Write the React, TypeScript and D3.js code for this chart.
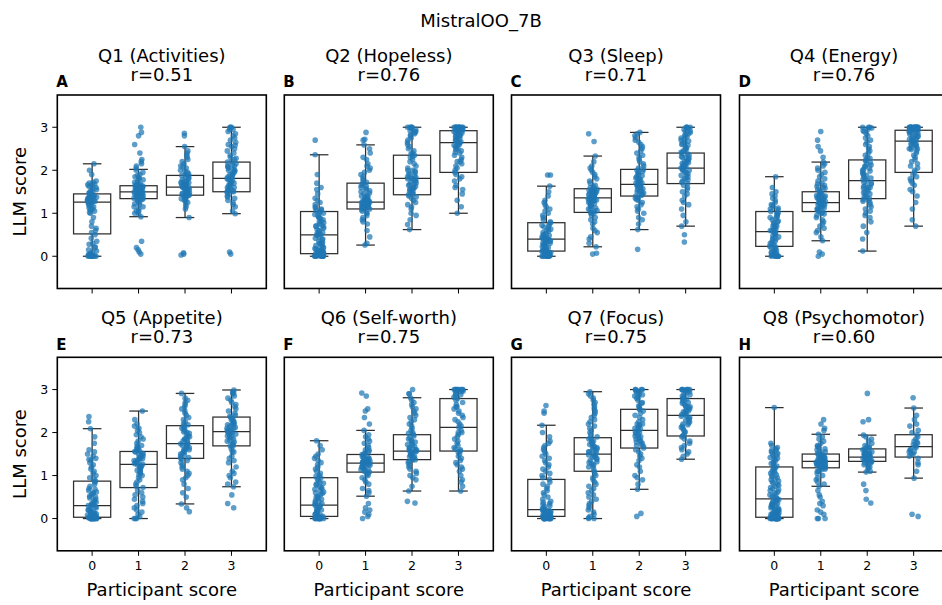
import React from 'react';
import * as d3 from 'd3';

const categories = [0, 1, 2, 3];
const yTicks = [0, 1, 2, 3];
const suptitle = 'MistralOO_7B';
const panelLetters = ['A', 'B', 'C', 'D', 'E', 'F', 'G', 'H'];
const panelTitles = ['Q1 (Activities)', 'Q2 (Hopeless)', 'Q3 (Sleep)', 'Q4 (Energy)', 'Q5 (Appetite)', 'Q6 (Self-worth)', 'Q7 (Focus)', 'Q8 (Psychomotor)'];
const correlations = ['0.51', '0.76', '0.71', '0.76', '0.73', '0.75', '0.75', '0.60'];
const xLabel = 'Participant score';
const yLabel = 'LLM score';

// box stats per category: [whiskerLow, q1, median, q3, whiskerHigh]
const boxQ1 = [[0, 0.52, 1.26, 1.45, 2.15], [0.92, 1.34, 1.50, 1.64, 2.02], [0.90, 1.42, 1.61, 1.88, 2.55], [0.99, 1.50, 1.81, 2.19, 3.0]];
const boxQ2 = [[0, 0.06, 0.50, 1.04, 2.36], [0.26, 1.10, 1.26, 1.70, 2.59], [0.62, 1.43, 1.81, 2.35, 3.0], [1.0, 1.95, 2.64, 2.92, 3.0]];
const boxQ3 = [[0, 0.12, 0.40, 0.78, 1.63], [0.22, 1.02, 1.36, 1.57, 2.33], [0.62, 1.40, 1.67, 2.02, 2.88], [0.70, 1.69, 2.05, 2.40, 3.0]];
const boxQ4 = [[0, 0.23, 0.57, 1.04, 1.85], [0.36, 1.04, 1.25, 1.50, 2.19], [0.12, 1.34, 1.76, 2.24, 3.0], [0.70, 1.95, 2.68, 2.93, 3.0]];
const boxQ5 = [[0, 0.03, 0.30, 0.87, 2.09], [0, 0.72, 1.26, 1.56, 2.50], [0.34, 1.40, 1.74, 2.16, 2.91], [0.74, 1.69, 2.02, 2.36, 2.99]];
const boxQ6 = [[0, 0.05, 0.31, 0.95, 1.81], [0.52, 1.08, 1.29, 1.49, 2.05], [0.64, 1.37, 1.57, 1.95, 2.81], [0.64, 1.57, 2.12, 2.79, 3.0]];
const boxQ7 = [[0, 0.05, 0.21, 0.91, 2.17], [0, 1.10, 1.50, 1.88, 2.95], [0.68, 1.64, 2.05, 2.54, 3.0], [1.38, 1.92, 2.40, 2.79, 3.0]];
const boxQ8 = [[0, 0.03, 0.46, 1.20, 2.58], [0.75, 1.18, 1.33, 1.50, 1.96], [1.08, 1.33, 1.43, 1.62, 1.94], [0.94, 1.43, 1.67, 1.95, 2.57]];

// individual LLM scores per participant-score category (spread of each group)
const ptsQ1 = [
  [0, 0, 0, 0, 0, 0.02, 0.03, 0.05, 0.1, 0.12, 0.2, 0.28, 0.35, 0.5, 0.55, 0.65, 0.7, 0.9, 1.0, 1.05, 1.1, 1.15, 1.2, 1.22, 1.25, 1.27, 1.3, 1.32, 1.35, 1.37, 1.4, 1.42, 1.45, 1.48, 1.5, 1.55, 1.6, 1.65, 1.68, 1.72, 1.75, 1.9, 2.0, 2.15],
  [0.05, 0.1, 0.15, 0.2, 0.35, 0.92, 0.98, 1.05, 1.1, 1.15, 1.2, 1.25, 1.3, 1.32, 1.35, 1.38, 1.4, 1.42, 1.44, 1.46, 1.48, 1.5, 1.5, 1.52, 1.54, 1.56, 1.58, 1.6, 1.62, 1.64, 1.66, 1.7, 1.75, 1.8, 1.85, 1.9, 1.95, 2.0, 2.1, 2.2, 2.25, 2.4, 2.6, 2.8, 2.88, 3.0],
  [0.03, 0.05, 0.08, 0.9, 1.1, 1.2, 1.28, 1.32, 1.36, 1.4, 1.42, 1.44, 1.46, 1.5, 1.52, 1.55, 1.58, 1.6, 1.62, 1.64, 1.66, 1.7, 1.72, 1.75, 1.8, 1.85, 1.88, 1.9, 1.95, 2.0, 2.05, 2.1, 2.15, 2.2, 2.3, 2.4, 2.45, 2.55, 2.8, 2.86],
  [0.05, 0.1, 0.99, 1.05, 1.15, 1.2, 1.3, 1.35, 1.4, 1.45, 1.5, 1.52, 1.55, 1.6, 1.65, 1.7, 1.75, 1.78, 1.81, 1.85, 1.9, 1.95, 2.0, 2.05, 2.1, 2.15, 2.19, 2.25, 2.3, 2.4, 2.5, 2.55, 2.6, 2.7, 2.8, 2.85, 2.9, 2.95, 3.0, 3.0],
];
const ptsQ2 = [
  [0, 0, 0, 0, 0, 0, 0.02, 0.03, 0.05, 0.06, 0.08, 0.1, 0.12, 0.15, 0.18, 0.2, 0.25, 0.3, 0.35, 0.4, 0.45, 0.5, 0.52, 0.55, 0.6, 0.65, 0.7, 0.75, 0.8, 0.85, 0.9, 0.95, 1.0, 1.04, 1.08, 1.12, 1.2, 1.3, 1.45, 1.55, 1.6, 1.7, 1.9, 2.36, 2.7],
  [0.26, 0.3, 0.45, 0.6, 0.75, 0.85, 0.95, 1.0, 1.05, 1.1, 1.12, 1.14, 1.16, 1.18, 1.2, 1.22, 1.24, 1.26, 1.28, 1.3, 1.32, 1.35, 1.38, 1.4, 1.45, 1.5, 1.55, 1.6, 1.65, 1.7, 1.75, 1.85, 1.95, 2.05, 2.15, 2.25, 2.4, 2.59, 2.7, 2.72, 2.88],
  [0.62, 0.74, 0.85, 1.0, 1.1, 1.2, 1.3, 1.35, 1.4, 1.43, 1.48, 1.52, 1.56, 1.6, 1.65, 1.7, 1.75, 1.8, 1.81, 1.85, 1.9, 1.95, 2.0, 2.1, 2.2, 2.3, 2.35, 2.4, 2.5, 2.6, 2.7, 2.8, 2.85, 2.9, 2.95, 3.0, 3.0, 3.0],
  [1.0, 1.15, 1.3, 1.45, 1.55, 1.65, 1.75, 1.85, 1.95, 2.0, 2.1, 2.2, 2.3, 2.4, 2.45, 2.5, 2.55, 2.6, 2.64, 2.68, 2.72, 2.76, 2.8, 2.84, 2.88, 2.9, 2.92, 2.94, 2.96, 2.98, 3.0, 3.0, 3.0, 3.0, 3.0, 3.0],
];
const ptsQ3 = [
  [0, 0, 0, 0, 0, 0.02, 0.05, 0.08, 0.1, 0.12, 0.15, 0.2, 0.22, 0.25, 0.3, 0.32, 0.35, 0.38, 0.4, 0.42, 0.45, 0.5, 0.55, 0.6, 0.65, 0.7, 0.75, 0.78, 0.85, 0.9, 1.0, 1.1, 1.2, 1.3, 1.4, 1.5, 1.63, 1.89, 1.89],
  [0.05, 0.07, 0.22, 0.3, 0.45, 0.55, 0.65, 0.75, 0.85, 0.95, 1.0, 1.02, 1.06, 1.1, 1.15, 1.2, 1.25, 1.28, 1.3, 1.33, 1.36, 1.38, 1.4, 1.42, 1.45, 1.48, 1.5, 1.52, 1.55, 1.57, 1.62, 1.7, 1.8, 1.9, 2.0, 2.1, 2.2, 2.33, 2.67, 2.85],
  [0.16, 0.62, 0.75, 0.9, 1.0, 1.1, 1.2, 1.3, 1.35, 1.4, 1.45, 1.5, 1.55, 1.6, 1.64, 1.67, 1.7, 1.75, 1.8, 1.85, 1.9, 1.95, 2.0, 2.02, 2.1, 2.2, 2.3, 2.4, 2.5, 2.6, 2.7, 2.8, 2.88],
  [0.33, 0.5, 0.7, 0.8, 0.95, 1.1, 1.25, 1.4, 1.5, 1.6, 1.69, 1.75, 1.8, 1.85, 1.9, 1.95, 2.0, 2.05, 2.08, 2.12, 2.16, 2.2, 2.25, 2.3, 2.35, 2.4, 2.45, 2.5, 2.55, 2.6, 2.65, 2.7, 2.75, 2.8, 2.85, 2.9, 2.95, 3.0, 3.0],
];
const ptsQ4 = [
  [0, 0, 0, 0, 0.02, 0.05, 0.08, 0.1, 0.15, 0.2, 0.23, 0.28, 0.32, 0.38, 0.42, 0.48, 0.52, 0.57, 0.6, 0.65, 0.7, 0.75, 0.8, 0.85, 0.9, 0.95, 1.0, 1.04, 1.1, 1.15, 1.2, 1.25, 1.3, 1.4, 1.5, 1.6, 1.85],
  [0, 0.05, 0.1, 0.36, 0.45, 0.55, 0.65, 0.75, 0.85, 0.95, 1.0, 1.04, 1.08, 1.12, 1.16, 1.2, 1.22, 1.25, 1.28, 1.3, 1.33, 1.36, 1.4, 1.43, 1.46, 1.5, 1.55, 1.6, 1.65, 1.7, 1.8, 1.9, 2.0, 2.1, 2.19, 2.3, 2.45, 2.55, 2.7, 2.9],
  [0.12, 0.4, 0.55, 0.8, 0.95, 1.05, 1.15, 1.25, 1.3, 1.34, 1.4, 1.45, 1.5, 1.55, 1.6, 1.65, 1.7, 1.76, 1.8, 1.85, 1.9, 1.95, 2.0, 2.05, 2.1, 2.15, 2.24, 2.3, 2.4, 2.5, 2.6, 2.7, 2.8, 2.9, 2.95, 3.0, 3.0],
  [0.7, 0.85, 1.1, 1.25, 1.4, 1.55, 1.65, 1.75, 1.85, 1.95, 2.05, 2.15, 2.25, 2.35, 2.45, 2.5, 2.55, 2.6, 2.65, 2.68, 2.72, 2.76, 2.8, 2.84, 2.88, 2.9, 2.93, 2.95, 2.97, 3.0, 3.0, 3.0, 3.0, 3.0, 3.0, 3.0, 3.0],
];
const ptsQ5 = [
  [0, 0, 0, 0, 0, 0, 0, 0.02, 0.03, 0.05, 0.08, 0.1, 0.12, 0.15, 0.18, 0.2, 0.25, 0.3, 0.32, 0.35, 0.4, 0.45, 0.5, 0.55, 0.6, 0.65, 0.7, 0.8, 0.87, 0.95, 1.05, 1.15, 1.25, 1.35, 1.4, 1.5, 1.75, 1.9, 2.09, 2.25, 2.37],
  [0, 0, 0.05, 0.1, 0.2, 0.25, 0.3, 0.4, 0.5, 0.6, 0.72, 0.8, 0.9, 1.0, 1.05, 1.1, 1.15, 1.2, 1.26, 1.3, 1.35, 1.4, 1.45, 1.5, 1.56, 1.6, 1.65, 1.7, 1.8, 1.9, 2.0, 2.1, 2.2, 2.3, 2.5],
  [0.16, 0.25, 0.34, 0.5, 0.6, 0.8, 0.95, 1.05, 1.15, 1.25, 1.35, 1.4, 1.45, 1.5, 1.55, 1.6, 1.65, 1.7, 1.74, 1.8, 1.85, 1.9, 1.95, 2.0, 2.05, 2.1, 2.16, 2.2, 2.3, 2.4, 2.5, 2.6, 2.7, 2.8, 2.91],
  [0.25, 0.35, 0.55, 0.74, 0.85, 0.95, 1.05, 1.2, 1.35, 1.45, 1.55, 1.69, 1.75, 1.8, 1.85, 1.9, 1.95, 2.0, 2.02, 2.05, 2.1, 2.15, 2.2, 2.25, 2.3, 2.36, 2.4, 2.5, 2.6, 2.7, 2.8, 2.9, 2.95, 2.99],
];
const ptsQ6 = [
  [0, 0, 0, 0, 0, 0, 0.02, 0.05, 0.08, 0.12, 0.15, 0.2, 0.25, 0.31, 0.35, 0.4, 0.45, 0.5, 0.55, 0.6, 0.65, 0.7, 0.75, 0.8, 0.85, 0.95, 1.0, 1.05, 1.1, 1.2, 1.3, 1.4, 1.5, 1.6, 1.7, 1.81],
  [0, 0.05, 0.1, 0.15, 0.25, 0.35, 0.52, 0.65, 0.8, 0.9, 1.0, 1.08, 1.12, 1.16, 1.2, 1.24, 1.27, 1.29, 1.31, 1.34, 1.37, 1.4, 1.44, 1.49, 1.55, 1.6, 1.7, 1.8, 1.9, 2.05, 2.2, 2.35, 2.5, 2.55, 2.85, 2.92],
  [0.36, 0.4, 0.64, 0.75, 0.9, 1.0, 1.1, 1.2, 1.3, 1.37, 1.42, 1.47, 1.52, 1.57, 1.6, 1.65, 1.7, 1.75, 1.8, 1.85, 1.95, 2.0, 2.1, 2.2, 2.3, 2.4, 2.5, 2.6, 2.7, 2.81, 2.9, 3.0],
  [0.64, 0.75, 0.9, 1.0, 1.1, 1.2, 1.35, 1.45, 1.57, 1.62, 1.7, 1.8, 1.9, 2.0, 2.12, 2.2, 2.3, 2.4, 2.5, 2.6, 2.7, 2.79, 2.85, 2.9, 2.95, 3.0, 3.0, 3.0, 3.0],
];
const ptsQ7 = [
  [0, 0, 0, 0, 0, 0, 0, 0.02, 0.05, 0.08, 0.1, 0.12, 0.15, 0.18, 0.21, 0.25, 0.3, 0.35, 0.4, 0.5, 0.6, 0.7, 0.8, 0.91, 1.0, 1.1, 1.2, 1.3, 1.4, 1.5, 1.6, 1.7, 1.8, 2.0, 2.17, 2.45, 2.5, 2.63],
  [0, 0, 0.05, 0.1, 0.2, 0.3, 0.4, 0.5, 0.6, 0.7, 0.8, 0.9, 1.0, 1.1, 1.2, 1.3, 1.35, 1.4, 1.45, 1.5, 1.55, 1.6, 1.65, 1.7, 1.75, 1.8, 1.88, 1.95, 2.05, 2.15, 2.25, 2.35, 2.45, 2.55, 2.65, 2.75, 2.85, 2.95],
  [0.05, 0.12, 0.68, 0.8, 0.95, 1.1, 1.25, 1.4, 1.5, 1.64, 1.7, 1.75, 1.8, 1.85, 1.9, 1.95, 2.05, 2.1, 2.15, 2.2, 2.3, 2.4, 2.5, 2.54, 2.6, 2.7, 2.8, 2.85, 2.9, 2.95, 3.0, 3.0],
  [1.38, 1.45, 1.55, 1.65, 1.75, 1.85, 1.92, 2.0, 2.1, 2.15, 2.2, 2.25, 2.3, 2.35, 2.4, 2.45, 2.5, 2.55, 2.6, 2.65, 2.7, 2.75, 2.79, 2.85, 2.9, 2.95, 3.0, 3.0, 3.0, 3.0],
];
const ptsQ8 = [
  [0, 0, 0, 0, 0, 0, 0, 0, 0.02, 0.03, 0.05, 0.08, 0.1, 0.12, 0.15, 0.2, 0.25, 0.3, 0.35, 0.4, 0.46, 0.5, 0.55, 0.6, 0.65, 0.7, 0.75, 0.8, 0.85, 0.9, 0.95, 1.0, 1.05, 1.1, 1.2, 1.25, 1.3, 1.35, 1.4, 1.45, 1.5, 1.55, 1.6, 1.7, 1.75, 2.58],
  [0, 0, 0.1, 0.2, 0.3, 0.4, 0.55, 0.75, 0.85, 0.95, 1.05, 1.1, 1.15, 1.18, 1.2, 1.23, 1.26, 1.28, 1.3, 1.33, 1.35, 1.38, 1.4, 1.42, 1.45, 1.5, 1.55, 1.6, 1.65, 1.7, 1.8, 1.9, 1.96, 2.05, 2.1, 2.2, 2.3],
  [0.36, 0.45, 0.65, 0.8, 1.08, 1.15, 1.2, 1.25, 1.3, 1.33, 1.36, 1.38, 1.4, 1.43, 1.45, 1.48, 1.5, 1.52, 1.55, 1.58, 1.62, 1.66, 1.7, 1.75, 1.85, 1.94, 2.25, 2.3, 2.91],
  [0.05, 0.1, 0.94, 1.1, 1.25, 1.4, 1.45, 1.5, 1.55, 1.6, 1.67, 1.7, 1.75, 1.8, 1.9, 1.95, 2.05, 2.2, 2.3, 2.57, 2.81],
];

// further LLM scores in the dense core of each group
const coreQ1 = [
  [0, 0, 0, 0.01, 0.04, 0.06, 0.15, 0.22, 0.3, 0.42, 0.6, 0.8, 1.02, 1.08, 1.12, 1.18, 1.24, 1.28, 1.31, 1.34, 1.36, 1.39, 1.41, 1.44, 1.46, 1.52, 1.58, 1.62, 1.66, 1.7, 1.38, 1.33, 1.29, 1.47],
  [1.22, 1.28, 1.34, 1.36, 1.39, 1.41, 1.43, 1.45, 1.47, 1.49, 1.51, 1.53, 1.55, 1.57, 1.59, 1.61, 1.63, 1.65, 1.68, 1.72, 1.78, 1.82, 1.88, 1.45, 1.5, 1.55, 1.35, 1.6, 1.4, 2.05, 2.15, 1.15, 1.05, 1.0],
  [1.3, 1.34, 1.38, 1.41, 1.43, 1.45, 1.48, 1.51, 1.54, 1.56, 1.59, 1.61, 1.63, 1.65, 1.68, 1.71, 1.74, 1.78, 1.82, 1.87, 1.92, 1.98, 2.08, 2.25, 2.35, 1.5, 1.6, 1.4, 1.25, 1.15, 1.7],
  [1.25, 1.38, 1.48, 1.53, 1.58, 1.62, 1.68, 1.72, 1.77, 1.8, 1.83, 1.87, 1.92, 1.98, 2.02, 2.08, 2.12, 2.2, 2.28, 2.35, 2.45, 2.58, 2.65, 2.75, 1.6, 1.9, 2.0, 1.7, 2.1, 1.5, 2.95, 3.0],
];
const coreQ2 = [
  [0, 0, 0, 0, 0.01, 0.04, 0.07, 0.09, 0.11, 0.14, 0.17, 0.22, 0.27, 0.32, 0.38, 0.42, 0.48, 0.53, 0.58, 0.62, 0.68, 0.72, 0.78, 0.82, 0.88, 0.92, 0.97, 1.02, 1.06, 1.1, 1.15, 1.25, 1.35, 0.3, 0.5, 0.7, 0.2, 0.05],
  [1.02, 1.08, 1.11, 1.13, 1.15, 1.17, 1.19, 1.21, 1.23, 1.25, 1.27, 1.29, 1.31, 1.34, 1.37, 1.42, 1.47, 1.52, 1.58, 1.62, 1.68, 1.72, 1.8, 1.9, 2.0, 2.1, 1.15, 1.2, 1.25, 1.3, 0.9, 0.8, 2.3, 2.5],
  [1.25, 1.38, 1.45, 1.5, 1.54, 1.58, 1.62, 1.67, 1.72, 1.77, 1.83, 1.88, 1.92, 1.98, 2.05, 2.15, 2.25, 2.32, 2.38, 2.45, 2.55, 2.65, 2.75, 2.82, 2.88, 2.92, 2.97, 3.0, 3.0, 1.6, 1.7, 1.8, 2.0, 0.95, 1.15],
  [1.9, 2.05, 2.15, 2.25, 2.35, 2.42, 2.48, 2.52, 2.58, 2.62, 2.66, 2.7, 2.74, 2.78, 2.82, 2.86, 2.89, 2.91, 2.93, 2.95, 2.97, 2.99, 3.0, 3.0, 3.0, 3.0, 3.0, 3.0, 2.6, 2.7, 2.8, 1.6, 1.8, 2.2],
];
const coreQ3 = [
  [0, 0, 0, 0, 0.01, 0.03, 0.06, 0.09, 0.11, 0.13, 0.17, 0.19, 0.24, 0.27, 0.29, 0.34, 0.37, 0.41, 0.44, 0.48, 0.52, 0.58, 0.63, 0.68, 0.72, 0.8, 0.95, 1.05, 1.15, 1.25, 0.3, 0.2, 0.1, 0.4, 0.5],
  [1.0, 1.05, 1.08, 1.12, 1.17, 1.22, 1.26, 1.29, 1.31, 1.34, 1.37, 1.39, 1.41, 1.43, 1.46, 1.49, 1.51, 1.54, 1.56, 1.6, 1.65, 1.75, 1.85, 1.95, 2.05, 1.3, 1.4, 1.5, 1.2, 0.9, 0.8, 0.6, 0.4],
  [1.15, 1.25, 1.32, 1.38, 1.42, 1.47, 1.52, 1.57, 1.62, 1.66, 1.69, 1.72, 1.77, 1.82, 1.87, 1.92, 1.97, 2.05, 2.15, 2.25, 2.35, 2.45, 2.55, 2.65, 2.75, 2.85, 1.6, 1.7, 1.8, 1.5, 0.85, 1.05],
  [1.45, 1.55, 1.65, 1.72, 1.78, 1.82, 1.88, 1.92, 1.98, 2.02, 2.06, 2.1, 2.14, 2.18, 2.22, 2.28, 2.32, 2.38, 2.42, 2.48, 2.52, 2.58, 2.62, 2.68, 2.72, 2.78, 2.82, 2.88, 2.92, 2.98, 3.0, 3.0, 2.0, 2.1, 2.2, 2.3, 1.3, 1.2],
];
const coreQ4 = [
  [0, 0, 0, 0, 0.01, 0.03, 0.06, 0.12, 0.18, 0.25, 0.3, 0.35, 0.4, 0.45, 0.5, 0.55, 0.62, 0.68, 0.72, 0.78, 0.82, 0.88, 0.92, 0.98, 1.02, 1.08, 1.12, 1.18, 1.35, 1.45, 0.2, 0.1, 0.6, 0.7],
  [0.9, 0.98, 1.02, 1.06, 1.1, 1.14, 1.18, 1.21, 1.23, 1.26, 1.29, 1.31, 1.34, 1.37, 1.41, 1.44, 1.48, 1.52, 1.58, 1.62, 1.68, 1.75, 1.85, 1.95, 2.05, 1.2, 1.3, 1.4, 1.1, 0.8, 0.7, 0.6, 2.15],
  [1.2, 1.28, 1.32, 1.38, 1.42, 1.48, 1.52, 1.58, 1.62, 1.68, 1.72, 1.78, 1.82, 1.88, 1.92, 1.98, 2.02, 2.08, 2.12, 2.18, 2.22, 2.28, 2.35, 2.45, 2.55, 2.65, 2.75, 2.85, 2.92, 2.98, 3.0, 1.1, 1.0, 0.9, 0.7, 1.6],
  [1.8, 1.9, 2.0, 2.1, 2.2, 2.3, 2.4, 2.48, 2.53, 2.58, 2.62, 2.66, 2.7, 2.74, 2.78, 2.82, 2.86, 2.89, 2.91, 2.94, 2.96, 2.98, 3.0, 3.0, 3.0, 3.0, 3.0, 3.0, 3.0, 3.0, 2.5, 2.6, 2.7, 2.8, 1.5, 1.7],
];
const coreQ5 = [
  [0, 0, 0, 0, 0, 0, 0.01, 0.02, 0.04, 0.06, 0.07, 0.09, 0.11, 0.14, 0.17, 0.22, 0.27, 0.3, 0.34, 0.38, 0.42, 0.48, 0.52, 0.58, 0.62, 0.68, 0.75, 0.85, 0.92, 1.0, 1.1, 1.2, 1.3, 1.38, 1.45, 1.55, 1.6, 0.05, 0.1, 0.2, 0.15],
  [0.65, 0.75, 0.85, 0.95, 1.02, 1.08, 1.12, 1.18, 1.22, 1.25, 1.28, 1.32, 1.36, 1.39, 1.42, 1.47, 1.52, 1.55, 1.58, 1.62, 1.68, 1.75, 1.85, 1.95, 2.05, 2.15, 1.3, 1.4, 1.5, 1.2, 0.55, 0.45, 0.35, 0.15, 0],
  [1.3, 1.38, 1.42, 1.48, 1.52, 1.58, 1.62, 1.68, 1.72, 1.76, 1.8, 1.84, 1.88, 1.92, 1.98, 2.02, 2.08, 2.12, 2.18, 2.25, 2.35, 2.45, 2.55, 2.65, 2.75, 1.6, 1.7, 1.2, 1.1, 1.0, 0.9, 0.7],
  [1.55, 1.62, 1.68, 1.72, 1.78, 1.82, 1.88, 1.92, 1.96, 2.0, 2.04, 2.08, 2.12, 2.18, 2.22, 2.28, 2.32, 2.38, 2.45, 2.55, 2.65, 2.75, 2.85, 2.92, 1.9, 2.0, 2.1, 2.2, 1.4, 1.3, 1.1, 1.0, 0.8],
];
const coreQ6 = [
  [0, 0, 0, 0, 0, 0.01, 0.03, 0.04, 0.06, 0.1, 0.14, 0.18, 0.22, 0.28, 0.33, 0.38, 0.42, 0.48, 0.52, 0.58, 0.62, 0.68, 0.72, 0.78, 0.82, 0.88, 0.92, 0.98, 1.15, 1.25, 1.35, 1.45, 0.1, 0.2, 0.3, 0.05],
  [1.02, 1.06, 1.1, 1.14, 1.18, 1.22, 1.25, 1.28, 1.3, 1.32, 1.35, 1.38, 1.42, 1.46, 1.5, 1.53, 1.58, 1.65, 1.75, 1.85, 1.95, 1.2, 1.25, 1.3, 1.35, 1.4, 1.15, 0.95, 0.85, 0.7, 0.6, 0.2],
  [1.25, 1.32, 1.36, 1.4, 1.44, 1.48, 1.5, 1.54, 1.56, 1.59, 1.62, 1.67, 1.72, 1.78, 1.82, 1.88, 1.92, 1.98, 2.05, 2.15, 2.25, 2.35, 2.45, 2.55, 2.65, 2.75, 2.9, 1.45, 1.55, 1.6, 1.15, 1.05, 0.95],
  [1.4, 1.5, 1.55, 1.6, 1.65, 1.75, 1.85, 1.95, 2.05, 2.15, 2.25, 2.35, 2.45, 2.55, 2.65, 2.75, 2.82, 2.88, 2.92, 2.96, 2.98, 3.0, 3.0, 3.0, 3.0, 3.0, 1.3, 1.25, 1.15, 0.85, 2.0, 2.6],
];
const coreQ7 = [
  [0, 0, 0, 0, 0, 0.01, 0.03, 0.04, 0.06, 0.07, 0.09, 0.11, 0.13, 0.16, 0.19, 0.23, 0.28, 0.33, 0.38, 0.45, 0.55, 0.65, 0.75, 0.85, 0.95, 1.05, 1.15, 1.25, 1.35, 1.45, 1.55, 1.65, 1.75, 1.9, 0.02, 0.05, 0.1, 0.15, 0.2],
  [0.95, 1.05, 1.15, 1.22, 1.28, 1.32, 1.38, 1.42, 1.48, 1.52, 1.58, 1.62, 1.68, 1.72, 1.78, 1.82, 1.85, 1.9, 2.0, 2.1, 2.2, 2.3, 2.4, 2.5, 2.6, 2.7, 2.8, 2.9, 1.25, 1.45, 1.55, 1.65, 0.85, 0.75, 0.65, 0.55, 0.45, 0.35, 0.25, 0.15, 0.02],
  [1.55, 1.6, 1.68, 1.72, 1.78, 1.82, 1.88, 1.92, 1.98, 2.02, 2.08, 2.12, 2.18, 2.25, 2.35, 2.45, 2.55, 2.62, 2.68, 2.75, 2.82, 2.88, 2.92, 2.97, 3.0, 3.0, 2.0, 2.2, 1.45, 1.35, 1.2, 1.0, 0.9],
  [1.5, 1.6, 1.7, 1.8, 1.9, 1.95, 2.02, 2.06, 2.12, 2.18, 2.22, 2.28, 2.32, 2.38, 2.42, 2.48, 2.52, 2.58, 2.62, 2.68, 2.72, 2.78, 2.82, 2.88, 2.92, 2.97, 3.0, 3.0, 3.0, 2.4, 2.5, 2.6],
];
const coreQ8 = [
  [0, 0, 0, 0, 0, 0, 0, 0, 0.01, 0.02, 0.04, 0.06, 0.07, 0.09, 0.11, 0.13, 0.14, 0.17, 0.19, 0.22, 0.24, 0.27, 0.29, 0.32, 0.34, 0.37, 0.39, 0.42, 0.44, 0.48, 0.52, 0.57, 0.62, 0.67, 0.72, 0.77, 0.82, 0.87, 0.92, 0.97, 1.02, 1.07, 1.12, 1.15, 1.18, 1.22, 1.28, 1.32, 1.38, 1.42, 1.48, 1.52, 1.58, 1.62, 1.65, 0.05, 0.1, 0.15, 0.2, 0.3],
  [1.1, 1.14, 1.17, 1.19, 1.21, 1.22, 1.24, 1.25, 1.27, 1.29, 1.31, 1.32, 1.34, 1.36, 1.37, 1.39, 1.41, 1.43, 1.44, 1.47, 1.49, 1.52, 1.57, 1.62, 1.68, 1.75, 1.85, 1.3, 1.35, 1.25, 1.0, 0.9, 0.8, 0.65, 0.5, 0.35, 0.15, 0],
  [1.25, 1.3, 1.32, 1.35, 1.37, 1.39, 1.41, 1.42, 1.44, 1.46, 1.47, 1.49, 1.51, 1.53, 1.56, 1.6, 1.64, 1.68, 1.8, 1.9, 1.4, 1.45, 1.5, 1.2, 1.1],
  [1.3, 1.5, 1.6, 1.65, 1.72, 1.85, 2.0, 2.15, 2.4, 1.55, 1.78],
];

const boxes = [boxQ1, boxQ2, boxQ3, boxQ4, boxQ5, boxQ6, boxQ7, boxQ8];
const spreads = [ptsQ1, ptsQ2, ptsQ3, ptsQ4, ptsQ5, ptsQ6, ptsQ7, ptsQ8];
const cores = [coreQ1, coreQ2, coreQ3, coreQ4, coreQ5, coreQ6, coreQ7, coreQ8];

const WIDTH = 942;
const HEIGHT = 605;
const PANEL_X = [57.3, 284.3, 511.5, 739.5];
const PANEL_Y = [95, 357.3];
const PW = 209;
const PH = 193.5;
const FONT = 'DejaVu Sans, Verdana, sans-serif';
const BLUE = '#1f77b4';
const LINE = '#2e2e2e';

// deterministic horizontal jitter in [-1, 1]
function jitter(i: number, c: number, p: number) {
  const s = Math.sin((i + 1) * 12.9898 + c * 78.233 + p * 37.719) * 43758.5453;
  return (s - Math.floor(s)) * 2 - 1;
}

function Panel({ idx }: { idx: number }) {
  const col = idx % 4;
  const row = Math.floor(idx / 4);
  const x0 = PANEL_X[col];
  const y0 = PANEL_Y[row];
  const x = d3.scaleLinear().domain([-0.75, 3.75]).range([0, PW]);
  const y = d3.scaleLinear().domain([-0.75, 3.75]).range([PH, 0]);
  const bw = x(0.4) - x(0);
  const cw = x(0.2) - x(0);
  const box = boxes[idx];
  const pts = categories.map((_, ci) => spreads[idx][ci].concat(cores[idx][ci]));
  return (
    <g transform={`translate(${x0},${y0})`}>
      <rect x={0} y={0} width={PW} height={PH} fill="white" />
      {categories.map((c, ci) => {
        const [wl, q1, md, q3, wh] = box[ci];
        const cx = x(c);
        return (
          <g key={`b${ci}`} stroke={LINE} strokeWidth={1.25} fill="none">
            <line x1={cx} x2={cx} y1={y(q3)} y2={y(wh)} />
            <line x1={cx} x2={cx} y1={y(q1)} y2={y(wl)} />
            <line x1={cx - cw} x2={cx + cw} y1={y(wh)} y2={y(wh)} />
            <line x1={cx - cw} x2={cx + cw} y1={y(wl)} y2={y(wl)} />
            <rect x={cx - bw} y={y(q3)} width={2 * bw} height={y(q1) - y(q3)} fill="white" />
            <line x1={cx - bw} x2={cx + bw} y1={y(md)} y2={y(md)} />
          </g>
        );
      })}
      {categories.map((c, ci) => (
        <g key={`p${ci}`} fill={BLUE} fillOpacity={0.72}>
          {pts[ci].map((v, i) => (
            <circle key={i} cx={x(c + 0.1 * jitter(i, ci, idx))} cy={y(v)} r={2.8} />
          ))}
        </g>
      ))}
      <rect x={0} y={0} width={PW} height={PH} fill="none" stroke="black" strokeWidth={1.6} />
      {categories.map((c) => (
        <line key={`xt${c}`} x1={x(c)} x2={x(c)} y1={PH} y2={PH + 5} stroke="black" strokeWidth={1} />
      ))}
      {row === 1 && categories.map((c) => (
        <text key={`xl${c}`} x={x(c)} y={PH + 19} textAnchor="middle" fontSize={12.5} fontFamily={FONT}>{c}</text>
      ))}
      {row === 1 && (
        <text x={PW / 2} y={PH + 45.5} textAnchor="middle" fontSize={18} fontFamily={FONT}>{xLabel}</text>
      )}
      {col === 0 && yTicks.map((t) => (
        <g key={`yt${t}`}>
          <line x1={-5} x2={0} y1={y(t)} y2={y(t)} stroke="black" strokeWidth={1} />
          <text x={-9} y={y(t)} dy="0.35em" textAnchor="end" fontSize={12.5} fontFamily={FONT}>{t}</text>
        </g>
      ))}
      {col === 0 && (
        <text transform={`translate(${-31},${PH / 2}) rotate(-90)`} textAnchor="middle" fontSize={18} fontFamily={FONT}>{yLabel}</text>
      )}
      <text x={PW / 2} y={-33.5} textAnchor="middle" fontSize={18} fontFamily={FONT}>{panelTitles[idx]}</text>
      <text x={PW / 2} y={-14} textAnchor="middle" fontSize={18} fontFamily={FONT}>{`r=${correlations[idx]}`}</text>
      <text x={-1} y={-7.7} fontSize={15} fontWeight="bold" fontFamily={FONT}>{panelLetters[idx]}</text>
    </g>
  );
}

export default function App() {
  return (
    <svg width={WIDTH} height={HEIGHT} style={{ position: 'absolute', left: 0, top: 0, background: 'white' }}>
      <rect width={WIDTH} height={HEIGHT} fill="white" />
      <text x={481} y={26.5} textAnchor="middle" fontSize={18} fontFamily={FONT}>{suptitle}</text>
      {panelTitles.map((_, i) => <Panel key={i} idx={i} />)}
    </svg>
  );
}
